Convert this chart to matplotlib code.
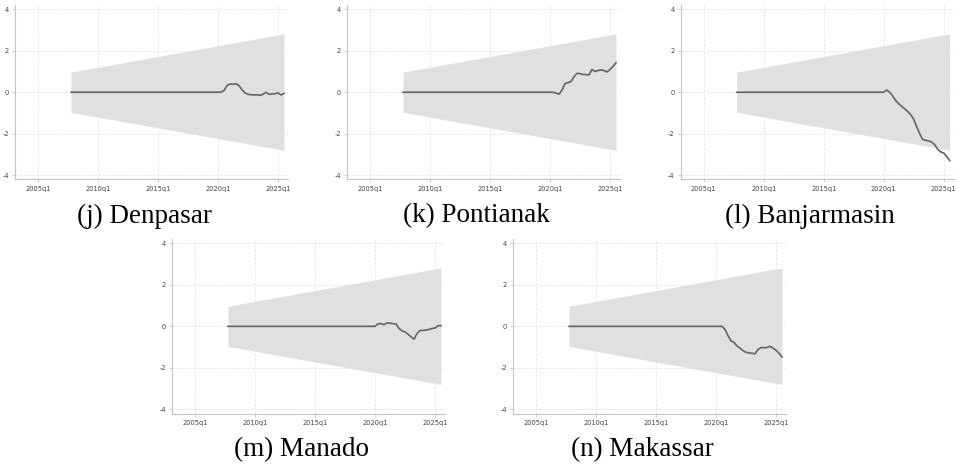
import numpy as np
import matplotlib
matplotlib.use("Agg")
import matplotlib.pyplot as plt

# ---------------- data ----------------
cities = ["(j) Denpasar", "(k) Pontianak", "(l) Banjarmasin", "(m) Manado", "(n) Makassar"]

# series is flat at 0 from 2007q4 until 2019q4; values below are 2020q1 .. 2025q3
series_start = "2007q4"
tail_start = "2020q1"
denpasar = [0.0, 0.01, 0.08, 0.32, 0.40, 0.38, 0.41, 0.32, 0.12, -0.03, -0.10, -0.12,
            -0.13, -0.12, -0.15, -0.10, 0.00, -0.10, -0.08, -0.07, -0.03, -0.13, -0.06]
pontianak = [0.0, 0.0, -0.04, -0.09, 0.10, 0.42, 0.46, 0.52, 0.75, 0.91, 0.90, 0.86,
             0.85, 0.84, 1.10, 1.00, 1.05, 1.08, 1.05, 0.98, 1.10, 1.25, 1.42]
banjarmasin = [0.0, 0.11, 0.0, -0.18, -0.40, -0.55, -0.68, -0.80, -0.93, -1.08, -1.30, -1.66,
               -2.00, -2.28, -2.32, -2.35, -2.40, -2.53, -2.75, -2.88, -2.93, -3.10, -3.30]
manado = [0.0, 0.12, 0.13, 0.08, 0.17, 0.15, 0.13, 0.12, -0.10, -0.22, -0.27, -0.38,
          -0.50, -0.62, -0.35, -0.20, -0.20, -0.18, -0.15, -0.10, -0.08, 0.03, 0.03]
makassar = [0.0, 0.0, 0.0, -0.15, -0.45, -0.70, -0.77, -0.95, -1.05, -1.17, -1.25, -1.28,
            -1.30, -1.32, -1.12, -1.02, -1.03, -1.02, -0.96, -1.05, -1.15, -1.30, -1.48]
all_tails = [denpasar, pontianak, banjarmasin, manado, makassar]

band_quarters = ["2007q4", "2025q3"]
band_upper = [0.97, 2.82]
band_lower = [-0.97, -2.80]

xtick_labels = ["2005q1", "2010q1", "2015q1", "2020q1", "2025q1"]
ytick_values = [-4, -2, 0, 2, 4]


def q2x(q):
    y, qq = q.split("q")
    return int(y) + (int(qq) - 1) / 4.0


# ---------------- figure ----------------
W, H = 957, 469
fig = plt.figure(figsize=(W / 100, H / 100), dpi=100)

# pixel layout: (x of 2020q1, top, bottom) per panel
x2020 = [218, 550, 883.7, 375, 716]
tops = [5.2, 5.2, 5.2, 239.2, 239.2]
bottoms = [179.3, 179.3, 179.3, 413.5, 413.5]
cap_y = [216, 216, 216, 450, 450]
xlo, xhi = 2003.1, 2025.8
pxyr = 12.0

band_color = "#e0e0e0"
line_color = "#636363"
grid_color = "#e4e4e4"
spine_color = "#c4c4c4"
label_color = "#444444"

for i, (name, tail) in enumerate(zip(cities, all_tails)):
    left_px = x2020[i] - (2020 - xlo) * pxyr
    width_px = (xhi - xlo) * pxyr
    ax = fig.add_axes([left_px / W, 1 - bottoms[i] / H, width_px / W,
                       (bottoms[i] - tops[i]) / H])
    # line data
    x0 = q2x(series_start)
    xt = q2x(tail_start)
    n_flat = int(round((xt - x0) * 4))
    xs = x0 + np.arange(n_flat + len(tail)) / 4.0
    ys = np.concatenate([np.zeros(n_flat), np.array(tail)])

    bx = [q2x(q) for q in band_quarters]
    ax.fill_between(bx, band_lower, band_upper, color=band_color, lw=0, zorder=1)
    ax.plot(xs, ys, color=line_color, lw=1.2, zorder=3)

    ax.set_xlim(xlo, xhi)
    ax.set_ylim(-4.2, 4.2)
    ax.set_xticks([q2x(t) for t in xtick_labels])
    ax.set_xticklabels(xtick_labels)
    ax.set_yticks(ytick_values)
    ax.set_yticklabels([str(v) for v in ytick_values])
    ax.grid(True, color=grid_color, lw=0.6, ls=(0, (3, 2)), zorder=0)
    ax.set_axisbelow(True)
    for s in ["top", "right"]:
        ax.spines[s].set_visible(False)
    for s in ["left", "bottom"]:
        ax.spines[s].set_color(spine_color)
        ax.spines[s].set_linewidth(0.8)
    ax.tick_params(axis="both", labelsize=4.8, colors=spine_color, labelcolor=label_color,
                   length=2.5, width=0.6, pad=2)
    ax.set_facecolor("white")

    cx = left_px + width_px / 2 - 7
    fig.text(cx / W, 1 - cap_y[i] / H, name, ha="center", va="center",
             family="Liberation Serif", fontsize=19.5, color="black")

fig.savefig("out.png", dpi=100, facecolor="white")
